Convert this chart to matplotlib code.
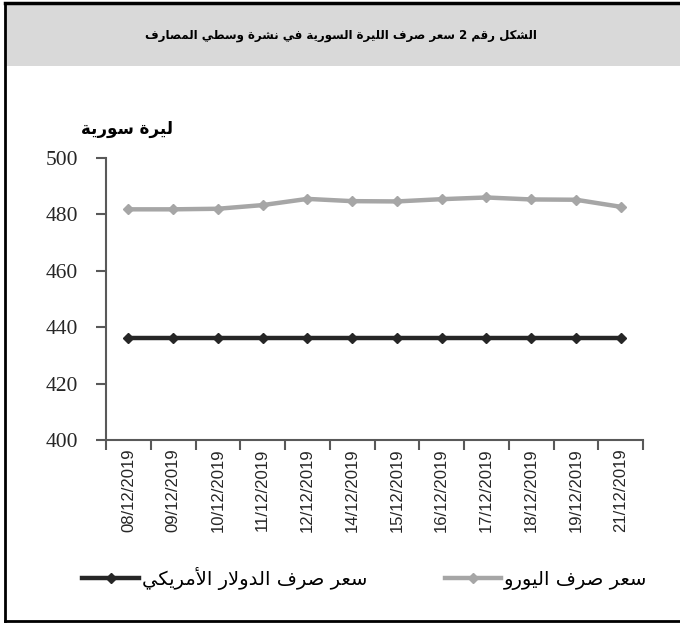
import re
import matplotlib
matplotlib.use("Agg")
import matplotlib.pyplot as plt
from matplotlib.lines import Line2D

# --- DATA ---
dates = ["08/12/2019", "09/12/2019", "10/12/2019", "11/12/2019", "12/12/2019", "14/12/2019",
         "15/12/2019", "16/12/2019", "17/12/2019", "18/12/2019", "19/12/2019", "21/12/2019"]
usd_rate = [436, 436, 436, 436, 436, 436, 436, 436, 436, 436, 436, 436]
euro_rate = [481.8, 481.8, 482.0, 483.3, 485.5, 484.7, 484.6, 485.4, 486.0, 485.3, 485.2, 482.7]

title = "الشكل رقم 2 سعر صرف الليرة السورية في نشرة وسطي المصارف"
y_label = "ليرة سورية"
usd_label = "سعر صرف الدولار الأمريكي"
euro_label = "سعر صرف اليورو"

# --- minimal Arabic shaping (matplotlib does no shaping / bidi) ---
DUAL = {'ب': 0xFE8F, 'ت': 0xFE95, 'ث': 0xFE99, 'ج': 0xFE9D, 'ح': 0xFEA1, 'خ': 0xFEA5,
        'س': 0xFEB1, 'ش': 0xFEB5, 'ص': 0xFEB9, 'ض': 0xFEBD, 'ط': 0xFEC1, 'ظ': 0xFEC5,
        'ع': 0xFEC9, 'غ': 0xFECD, 'ف': 0xFED1, 'ق': 0xFED5, 'ك': 0xFED9, 'ل': 0xFEDD,
        'م': 0xFEE1, 'ن': 0xFEE5, 'ه': 0xFEE9, 'ي': 0xFEF1}
RIGHT = {'ا': 0xFE8D, 'أ': 0xFE83, 'ة': 0xFE93, 'د': 0xFEA9, 'ذ': 0xFEAB, 'ر': 0xFEAD,
         'ز': 0xFEAF, 'و': 0xFEED, 'ى': 0xFEEF}
LAM_ALEF = {'ا': 0xFEFB, 'أ': 0xFEF7}


def shape(text):
    units = []
    i = 0
    while i < len(text):
        c = text[i]
        if c == 'ل' and i + 1 < len(text) and text[i + 1] in LAM_ALEF:
            units.append((LAM_ALEF[text[i + 1]], False))
            i += 2
            continue
        if c in DUAL:
            units.append((DUAL[c], True))
        elif c in RIGHT:
            units.append((RIGHT[c], False))
        else:
            units.append((c, None))
        i += 1
    out = []
    for k, (base, dual) in enumerate(units):
        if dual is None:
            out.append(base)
            continue
        prev = k > 0 and units[k - 1][1] is True
        nxt = dual and k + 1 < len(units) and units[k + 1][1] is not None
        if prev and nxt:
            idx = 3
        elif prev:
            idx = 1
        elif nxt:
            idx = 2
        else:
            idx = 0
        out.append(chr(base + idx))
    vis = ''.join(out)[::-1]
    return re.sub(r'[0-9]+', lambda m: m.group()[::-1], vis)


AR = ['DejaVu Sans']

fig = plt.figure(figsize=(6.8, 6.26), dpi=100)
W, H = 680, 626

# frame and grey title band
fig.patches.append(plt.Rectangle((6 / W, 1 - 66 / H), 1, 62 / H, transform=fig.transFigure,
                                 facecolor="#d9d9d9", edgecolor="none", zorder=0))
fig.add_artist(Line2D([5 / W, 5 / W], [1 - 3 / H, 1 - 621 / H], color="black", lw=2))
fig.add_artist(Line2D([5 / W, 1], [1 - 3 / H, 1 - 3 / H], color="black", lw=2.5))
fig.add_artist(Line2D([5 / W, 1], [1 - 621 / H, 1 - 621 / H], color="black", lw=2))

fig.text(341 / W, 1 - 35 / H, shape(title), ha="center", va="center",
         fontsize=8.5, fontweight="bold", family=AR)

ax = fig.add_axes([106 / W, 1 - 440 / H, 537 / W, 282 / H])
x = list(range(len(dates)))
ax.plot(x, euro_rate, color="#a6a6a6", lw=3.2, marker="D", markersize=5, zorder=3)
ax.plot(x, usd_rate, color="#262626", lw=3.2, marker="D", markersize=5, zorder=3)

ax.set_xlim(-0.5, len(dates) - 0.5)
ax.set_ylim(400, 500)
ax.set_yticks([400, 420, 440, 460, 480, 500])
ax.set_xticks(x)
ax.set_xticklabels(dates, rotation=90, fontsize=12, family="Liberation Sans", color="#262626")
ax.set_xticks([i - 0.5 for i in range(len(dates) + 1)], minor=True)
ax.tick_params(axis="x", which="major", length=0, pad=6)
ax.tick_params(axis="x", which="minor", length=7, width=1.5, color="#595959")
ax.tick_params(axis="y", length=7, width=1.5, color="#595959", pad=13)
for lab in ax.get_yticklabels():
    lab.set_family("Liberation Serif")
    lab.set_fontsize(15.5)
    lab.set_color("#262626")

for s in ["top", "right"]:
    ax.spines[s].set_visible(False)
for s in ["left", "bottom"]:
    ax.spines[s].set_color("#595959")
    ax.spines[s].set_linewidth(1.5)

fig.text(127 / W, 1 - 129 / H, shape(y_label), ha="center", va="center",
         fontsize=12, fontweight="bold", family=AR)

handles = [Line2D([], [], color="#262626", lw=3.2, marker="D", markersize=5),
           Line2D([], [], color="#a6a6a6", lw=3.2, marker="D", markersize=5)]
fig.legend(handles, [shape(usd_label), shape(euro_label)], loc="center",
           bbox_to_anchor=(365 / W, 1 - 578 / H), ncol=2, frameon=False,
           handlelength=2.9, handletextpad=0.15, columnspacing=4.0,
           prop={"family": AR, "size": 14})

fig.savefig("out.png", dpi=100)
